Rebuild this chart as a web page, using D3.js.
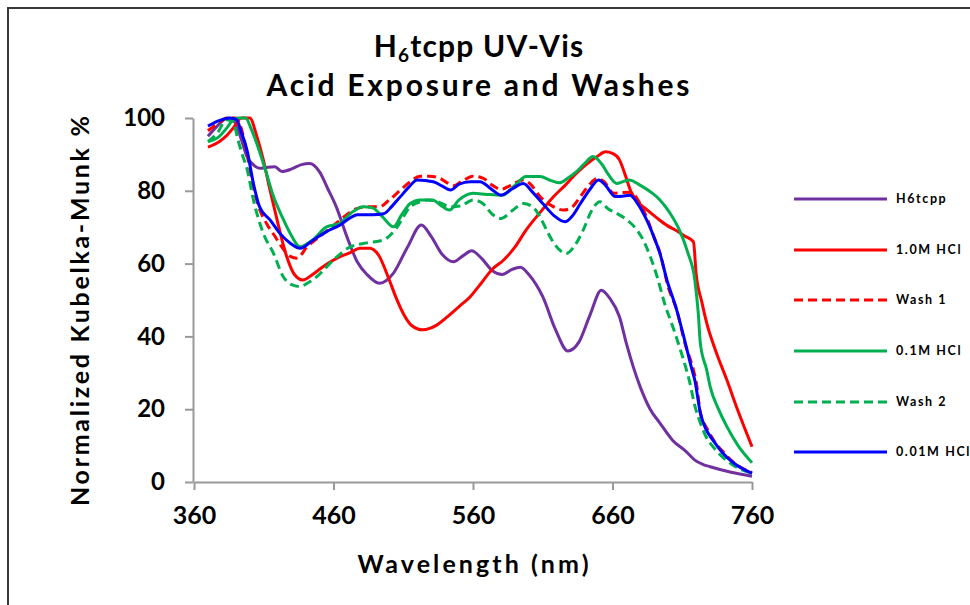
<!DOCTYPE html>
<html>
<head>
<meta charset="utf-8">
<script src="https://cdn.jsdelivr.net/npm/d3@7"></script>
<style>
  body { margin: 0; background: #fff; }
  svg text { font-family: Lato, "Open Sans", sans-serif; font-weight: bold; }
</style>
</head>
<body>
<div id="graph"></div>
<script>
// Tick values
let xTicks = [360, 460, 560, 660, 760];
let yTicks = [0, 20, 40, 60, 80, 100];

// Series names (legend order)
let seriesNames = ['H6tcpp', '1.0M HCl', 'Wash 1', '0.1M HCl', 'Wash 2', '0.01M HCl'];

// [wavelength nm, normalized KM %]
let h6tcpp = [[370,95],[376,97.5],[384,100],[389,99],[394,94],[398,89.4],[403,87],[407,86.2],[413,86.5],[418,86.6],[423,85.3],[430,86],[437,87.2],[443,87.5],[450,85.2],[456,80.5],[462,75.6],[470,67],[477,60.5],[484,57],[493,54.6],[503,57.4],[513,64.5],[523,70.6],[530,67.5],[538,62.5],[546,60.5],[553,62.2],[559,63.5],[566,61.5],[574,58],[581,57],[588,58.4],[594,59],[600,57],[610,50.9],[619,42],[628,36],[636,38.5],[644,46],[652,52.7],[658,50.5],[665,45.4],[670,38],[675,31.5],[680,26],[687,20],[694,16.2],[703,11.5],[713,8.3],[719,6],[725,4.8],[730,4.2],[745,2.7],[760,1.6]];

let hcl10 = [[370,92],[378,93.5],[383,95],[388,97.2],[394,100],[400,100],[405,95],[409.7,88.5],[414,81],[419,72.9],[426.5,61.9],[432,57],[438,55.5],[445,57],[452.7,59.2],[464.7,61.9],[472,63],[479,64.2],[486,64.2],[492,62.5],[500,55.5],[505,50.5],[510,46.3],[516,43],[524,41.8],[529,42.2],[534,43.1],[542,45.5],[550,48.2],[558,50.9],[565,54.2],[574,58.5],[582,61],[590,64.5],[598,69.2],[608,74],[618,78.5],[626,81.5],[634,84.8],[642,87.5],[649,89.4],[655,90.7],[660,90.3],[665,88.5],[669,84.5],[673,80],[678,77],[685,74.7],[692,72.5],[699,70.5],[706,69],[712,67.5],[718,66],[720,57],[724,49.5],[728,43],[734,36],[742,28],[750,19.5],[760,9.7]];

let wash1 = [[370,96.5],[377,98.5],[384,100],[390,100],[394,97],[398,90],[402,82],[406,76],[412,71],[418,67.5],[424,64],[429,62],[434,61.5],[441,64.6],[447,66.5],[453,68.3],[460,70.5],[468,73],[476,75],[484,75.6],[493,75.6],[500,77.5],[508,80.2],[515,82.5],[522,84],[529,84],[536,83.5],[541,82.3],[546,81.4],[552,82.6],[560,84],[567,83.5],[574,81.5],[580,80.4],[587,81.5],[596,83],[602,81.5],[608,78.4],[616,76],[625,74.7],[631,75.5],[637,78.4],[643,81.5],[649,83.4],[654,82.5],[661,79.3],[667,79.5],[673,79.6],[679,77],[685,72.2],[690,67],[694,63],[700,53.5],[706,47.3],[712,38],[718,30.8],[720,27.5],[723,19],[728,14.5],[733,11.2],[740,8],[747,5.3],[760,2.6]];

let hcl01 = [[370,93.5],[378,94.9],[384,97.5],[388,99.5],[392,100],[397,100],[401,97],[405,93],[411,86],[417,78.4],[423,73],[429,68.3],[436,64.6],[445,66.5],[455,70.1],[464,71],[474,74.3],[481,75.6],[488,75.3],[495,72.9],[503,70.1],[509,73.5],[515,76.5],[522,77.5],[531,77.5],[537,76],[543,74.7],[550,77.5],[560,79.3],[570,79],[581,78.8],[590,81.5],[598,83.9],[608,83.9],[616,82.8],[622,82.2],[628,83.5],[634,85.2],[640,87.5],[646,89.4],[652,87.5],[657,84.5],[663,82],[672,83],[680,81.5],[688,79.5],[694,77.5],[701,74],[708,69.2],[714,63],[719,55.5],[721.5,46.3],[723,38],[727.5,30.8],[730,26.2],[736,20],[742,15.2],[750,10],[760,5.3]];

let wash2 = [[370,93.5],[377,96],[383,99.5],[388,99],[391.5,94],[395,89.5],[398,86],[402.6,77.5],[409.7,68.3],[417,62.8],[424,56.4],[430,54.2],[436,53.7],[442,54.8],[448,56.4],[460,61],[472,64.6],[484,65.7],[496,66.5],[505,69.7],[515,75.6],[522,77],[527,77.5],[535,77],[543.5,75.6],[551,75.8],[560,77.5],[567,76.5],[574,73.5],[580,72.4],[588,74.5],[596,76.5],[603,75.5],[608,72.9],[613,69],[618,65.6],[627,62.8],[633,65],[639,69.2],[645,74.5],[651,77],[657,75],[663,73.8],[672,71.5],[677,69.5],[682,66.5],[687,62],[692,56.4],[697,49.5],[704,41.8],[713,30.8],[715,28],[719,21],[723,16.2],[727,12.5],[732,9.7],[745,5],[760,2.4]];

let hcl001 = [[370,97.8],[378,99.3],[386,100],[390.6,99.5],[394,96],[398,91.2],[402.6,82],[407,75.6],[414.5,72],[421.6,68.3],[429,65.6],[436,64.2],[445.5,66.5],[455,68.8],[464.7,70.6],[471,72.3],[477,73.4],[488,73.4],[496,73.7],[502,75.8],[508,78.4],[514,81],[520,83],[531.5,82.5],[538,81.3],[544,80.2],[550,81.8],[558,82.5],[565,82.5],[573,80.5],[580,78.8],[588,80.5],[596,82],[603,79.5],[610,76.5],[618,73.2],[626,71.5],[631,73],[637,76.5],[644,80.5],[650,83],[655,81.5],[662,78.4],[667,78.5],[672.5,78.8],[678,76.5],[684.5,72],[690,67],[694,62.8],[699,55.5],[706,47.3],[712,38.5],[717,30.8],[719,28],[723,18.9],[727,14.5],[732,11.5],[739,8],[746.6,5.3],[760,2.4]];

let seriesData = [h6tcpp, hcl10, wash1, hcl01, wash2, hcl001];
let seriesColors = ['#7030A0', '#FF0000', '#FF0000', '#00B050', '#00B050', '#0000FF'];
let seriesDash = [null, null, '9,5', null, '9,5', null];

let width = 970, height = 605;

let svg = d3.select('#graph').append('svg')
    .attr('width', width)
    .attr('height', height);

// outer frame (only top/left edges show in the window)
svg.append('rect')
    .attr('x', 8).attr('y', 8)
    .attr('width', 1000).attr('height', 1000)
    .attr('fill', 'none')
    .attr('stroke', '#3a3a3a')
    .attr('stroke-width', 2);

let x = d3.scaleLinear().domain([360, 760]).range([194, 752]);
let y = d3.scaleLinear().domain([0, 100]).range([482, 118]);

// Title
let title = svg.append('text')
    .attr('x', 479).attr('y', 57)
    .attr('text-anchor', 'middle')
    .style('font-size', '30px')
    .style('letter-spacing', '1.2px')
    .attr('fill', '#000');
title.append('tspan').text('H');
title.append('tspan').attr('dy', 5).style('font-size', '19px').text('6');
title.append('tspan').attr('dy', -5).text('tcpp UV-Vis');

svg.append('text')
    .attr('x', 478).attr('y', 96)
    .attr('text-anchor', 'middle')
    .attr('textLength', 423)
    .attr('lengthAdjust', 'spacing')
    .style('font-size', '30px')
    .text('Acid Exposure and Washes');

// Axes
let gx = svg.append('g')
    .attr('transform', `translate(0,${y(0)})`)
    .call(d3.axisBottom(x).tickValues(xTicks).tickSize(8).tickSizeOuter(0).tickPadding(10));

let gy = svg.append('g')
    .attr('transform', `translate(${x(360) - 1},0)`)
    .call(d3.axisLeft(y).tickValues(yTicks).tickSize(8).tickSizeOuter(0).tickPadding(20));

[gx, gy].forEach((g) => {
    g.select('.domain').attr('stroke', '#999').attr('stroke-width', 2);
    g.selectAll('.tick line').attr('stroke', '#999').attr('stroke-width', 2);
    g.selectAll('.tick text')
        .attr('fill', '#000')
        .style('font-size', '24px')
        .style('font-family', 'Lato, sans-serif')
        .style('font-weight', 'bold');
});
gx.selectAll('.tick text').attr('dy', '0.95em').style('font-size', '25px');

// Axis titles
svg.append('text')
    .attr('x', 473).attr('y', 573)
    .attr('text-anchor', 'middle')
    .attr('textLength', 231)
    .attr('lengthAdjust', 'spacing')
    .style('font-size', '25px')
    .text('Wavelength (nm)');

svg.append('text')
    .attr('transform', 'translate(89,311) rotate(-90)')
    .attr('text-anchor', 'middle')
    .attr('textLength', 390)
    .attr('lengthAdjust', 'spacing')
    .style('font-size', '25px')
    .text('Normalized Kubelka-Munk %');

// Lines
let line = d3.line()
    .x((d) => x(d[0]))
    .y((d) => y(d[1]))
    .curve(d3.curveMonotoneX);

svg.append('g').selectAll('path.series')
    .data(seriesData)
    .join('path')
    .attr('class', 'series')
    .attr('d', line)
    .attr('fill', 'none')
    .attr('stroke', (d, i) => seriesColors[i])
    .attr('stroke-width', 3)
    .attr('stroke-dasharray', (d, i) => seriesDash[i]);

// Legend
let legendY = [199, 250, 300, 351, 402, 452];
let legend = svg.append('g').selectAll('g')
    .data(seriesNames)
    .join('g')
    .attr('transform', (d, i) => `translate(794,${legendY[i]})`);

legend.append('line')
    .attr('x1', 0).attr('x2', 93)
    .attr('stroke', (d, i) => seriesColors[i])
    .attr('stroke-width', 3)
    .attr('stroke-dasharray', (d, i) => seriesDash[i]);

legend.append('text')
    .attr('x', 102)
    .attr('dy', '0.35em')
    .style('font-size', '12.5px')
    .style('letter-spacing', '1.6px')
    .text((d) => d);
</script>
</body>
</html>
